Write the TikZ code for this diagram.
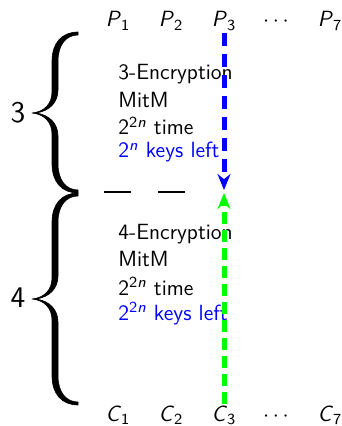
\documentclass[tikz,border=0pt]{standalone}
\usetikzlibrary{arrows.meta}
\begin{document}
\begin{tikzpicture}[x=0.5pt,y=-0.5pt,
  font=\sffamily\fontsize{11}{13}\selectfont,
  lbl/.style={anchor=base,inner sep=0pt},
  txt/.style={anchor=base west,inner sep=0pt},
  bracefill/.style={fill=black,draw=black,line width=0.3pt,line join=round},
  bignum/.style={inner sep=0pt,font=\sffamily\fontsize{15}{18}\selectfont},
  blueline/.style={blue,line width=2.5pt,dash pattern=on 6.5pt off 4pt,-{Stealth[length=8pt,width=6.5pt]}},
  greenline/.style={green,line width=2.5pt,dash pattern=on 6pt off 3pt,-{Stealth[length=8pt,width=6.5pt]}},
  sep/.style={line width=0.9pt,dash pattern=on 13.5pt off 13.5pt}]
\useasboundingbox (0,0) rectangle (341,426);
% top labels
\node[lbl] (p1) at (118,27) {\textit{P}\textsubscript{1}};
\node[lbl] (p2) at (171,27) {\textit{P}\textsubscript{2}};
\node[lbl] (p3) at (224,27) {\textit{P}\textsubscript{3}};
\node[lbl] (pd) at (276,27) {$\cdots$};
\node[lbl] (p7) at (330,27) {\textit{P}\textsubscript{7}};
% bottom labels
\node[lbl] (c1) at (118,421) {\textit{C}\textsubscript{1}};
\node[lbl] (c2) at (171,421) {\textit{C}\textsubscript{2}};
\node[lbl] (c3) at (224,421) {\textit{C}\textsubscript{3}};
\node[lbl] (cd) at (276,421) {$\cdots$};
\node[lbl] (c7) at (330,421) {\textit{C}\textsubscript{7}};
% upper brace
\path[bracefill] (78,32) .. controls (62,32) and (52,43) .. (52,61) -- (52,92)
  .. controls (52,104) and (44,112) .. (32,113)
  .. controls (44,114) and (52,122) .. (52,134) -- (52,164)
  .. controls (52,182) and (62,193) .. (78,193) -- (78,190)
  .. controls (66,190) and (58,180) .. (58,164) -- (58,136)
  .. controls (58,124) and (50,115) .. (36,113)
  .. controls (50,111) and (58,102) .. (58,90) -- (58,61)
  .. controls (58,45) and (66,35) .. (78,35) -- cycle;
% lower brace
\path[bracefill] (78,193) .. controls (62,193) and (52,204) .. (52,222) -- (52,278)
  .. controls (52,290) and (44,298) .. (32,299)
  .. controls (44,300) and (52,308) .. (52,320) -- (52,376)
  .. controls (52,394) and (62,405) .. (78,405) -- (78,402)
  .. controls (66,402) and (58,392) .. (58,376) -- (58,322)
  .. controls (58,310) and (50,301) .. (36,299)
  .. controls (50,297) and (58,288) .. (58,276) -- (58,222)
  .. controls (58,206) and (66,196) .. (78,196) -- cycle;
\node[bignum] (n3) at (18,113) {3};
\node[bignum] (n4) at (18,298) {4};
% separator
\coordinate (s1) at (104,192);
\coordinate (s2) at (185,192);
\draw[sep] (s1) -- (s2);
% upper text
\node[txt] (t1) at (118,80) {3-Encryption};
\node[txt] (t2) at (118,108) {MitM};
\node[txt] (t3) at (118,135) {2\textsuperscript{2\textit{n}} time};
\node[txt,text=blue] (t4) at (118,158) {2\textsuperscript{\textit{n}} keys left};
% lower text
\node[txt] (u1) at (118,240) {4-Encryption};
\node[txt] (u2) at (118,266) {MitM};
\node[txt] (u3) at (118,295) {2\textsuperscript{2\textit{n}} time};
\node[txt,text=blue] (u4) at (118,320) {2\textsuperscript{2\textit{n}} keys left};
% arrows
\coordinate (bs) at (224,33);
\coordinate (be) at (224,190);
\coordinate (gs) at (224,404);
\coordinate (ge) at (224,193);
\draw[blueline] (bs) -- (be);
\draw[greenline] (gs) -- (ge);
\end{tikzpicture}
\end{document}
